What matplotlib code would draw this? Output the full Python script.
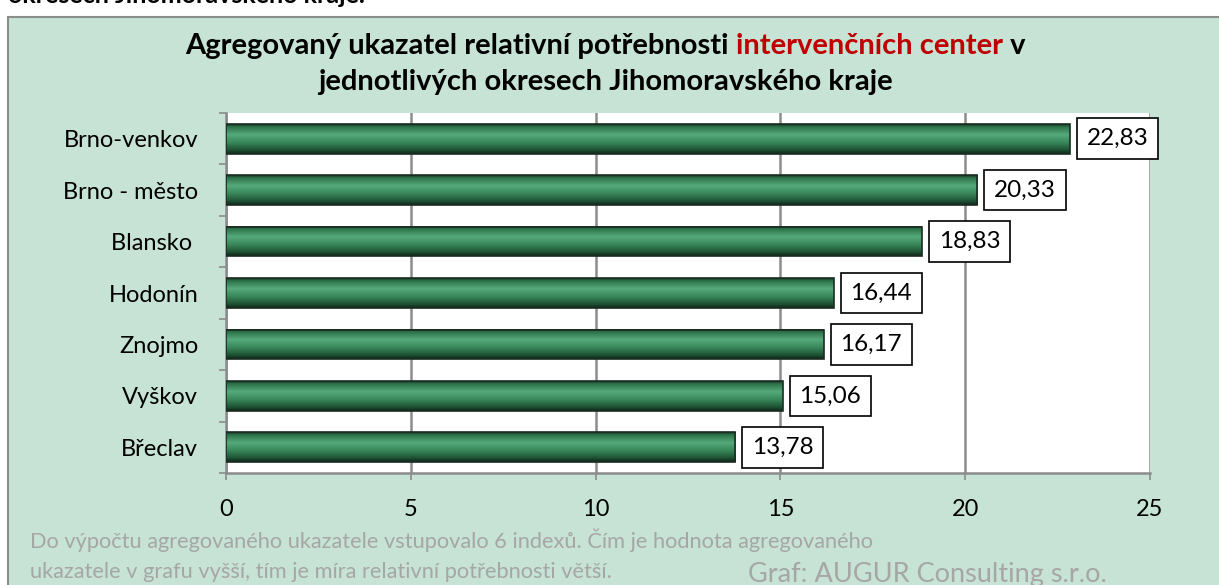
import numpy as np
import matplotlib.pyplot as plt
from matplotlib.patches import Rectangle
from matplotlib.colors import LinearSegmentedColormap

okresy = ['Brno-venkov', 'Brno - město', 'Blansko ', 'Hodonín', 'Znojmo', 'Vyškov', 'Břeclav']
hodnoty = [22.83, 20.33, 18.83, 16.44, 16.17, 15.06, 13.78]
popisky = ['22,83', '20,33', '18,83', '16,44', '16,17', '15,06', '13,78']
xticks = [0, 5, 10, 15, 20, 25]

plt.rcParams['font.family'] = ['Lato', 'DejaVu Sans']
bg = '#c6e3d5'
W, H = 1219, 585

fig = plt.figure(figsize=(12.19, 5.85), dpi=100)
fig.patch.set_facecolor('white')

# chart box (green panel with grey border)
fig.patches.append(Rectangle((8 / W, -0.01), 1.0, 1 - 17 / H + 0.01, transform=fig.transFigure,
                             facecolor=bg, edgecolor='#8c8c8c', linewidth=1.5, zorder=-5))
# clipped text from the page above the chart
fig.text(8 / W, 1 - 3 / H, 'okresech Jihomoravského kraje.', fontsize=18,
         fontweight='bold', va='baseline', ha='left')

ax = fig.add_axes([226 / W, 112 / H, 924 / W, 360 / H])
ax.set_facecolor('white')

y = np.arange(len(okresy))
h = 0.58
# cylinder-like gradient for bars
cmap = LinearSegmentedColormap.from_list('cyl', [
    (0.0, '#16301f'), (0.08, '#2c7048'), (0.35, '#55aa7a'),
    (0.6, '#3a8a5c'), (0.88, '#1d5033'), (1.0, '#0f2417')])
grad = np.linspace(0, 1, 100).reshape(-1, 1)
for yi, v in zip(y, hodnoty):
    ax.imshow(grad, cmap=cmap, aspect='auto', extent=(0, v, yi + h / 2, yi - h / 2),
              zorder=3, interpolation='bilinear')
    ax.add_patch(Rectangle((0, yi - h / 2), v, h, fill=False, edgecolor='#1a2e22',
                           linewidth=1.2, zorder=4))

for yi, v, t in zip(y, hodnoty, popisky):
    ax.annotate(t, (v, yi), xytext=(12, 0), textcoords='offset points', ha='left',
                va='center', fontsize=17.5, zorder=5,
                bbox=dict(boxstyle='square,pad=0.4', facecolor='white',
                          edgecolor='black', linewidth=1.2))

ax.set_xlim(0, 25)
ax.set_ylim(len(okresy) - 0.5, -0.5)
ax.set_xticks(xticks)
ax.set_xticklabels([str(t) for t in xticks], fontsize=17)
ax.set_yticks(y)
ax.set_yticklabels(okresy, fontsize=17)
ax.set_yticks(np.arange(len(okresy) + 1) - 0.5, minor=True)
ax.tick_params(axis='y', which='major', length=0, pad=20)
ax.tick_params(axis='y', which='minor', length=5, color='#8c8c8c', width=1.2)
ax.tick_params(axis='x', length=5, color='#8c8c8c', width=1.2, pad=14)
ax.xaxis.grid(True, color='#8c8c8c', linewidth=1.8, zorder=1)
ax.set_axisbelow(True)
for s in ['top', 'right']:
    ax.spines[s].set_visible(False)
for s in ['left', 'bottom']:
    ax.spines[s].set_color('#8c8c8c')
    ax.spines[s].set_linewidth(1.8)

# title with coloured part
fig.canvas.draw()
r = fig.canvas.get_renderer()
parts = [('Agregovaný ukazatel relativní potřebnosti ', 'black'),
         ('intervenčních center', '#c00000'), (' v', 'black')]
ts = [fig.text(0, 0, p, fontsize=21, fontweight='bold', color=c) for p, c in parts]
widths = [t.get_window_extent(r).width for t in ts]
x0 = 605 - sum(widths) / 2
for t, w in zip(ts, widths):
    t.set_position((x0 / W, 1 - 54 / H))
    x0 += w
fig.text(605 / W, 1 - 90 / H, 'jednotlivých okresech Jihomoravského kraje', fontsize=21,
         fontweight='bold', ha='center')

grey = '#a6a6a6'
fig.text(30 / W, 1 - 548 / H, 'Do výpočtu agregovaného ukazatele vstupovalo 6 indexů. Čím je hodnota agregovaného',
         fontsize=15.7, color=grey)
fig.text(30 / W, 1 - 578 / H, 'ukazatele v grafu vyšší, tím je míra relativní potřebnosti větší.',
         fontsize=15.7, color=grey)
fig.text(748 / W, 1 - 582 / H, 'Graf: AUGUR Consulting s.r.o.', fontsize=19.5, color=grey)

fig.savefig('out.png', dpi=100, facecolor=fig.get_facecolor())
